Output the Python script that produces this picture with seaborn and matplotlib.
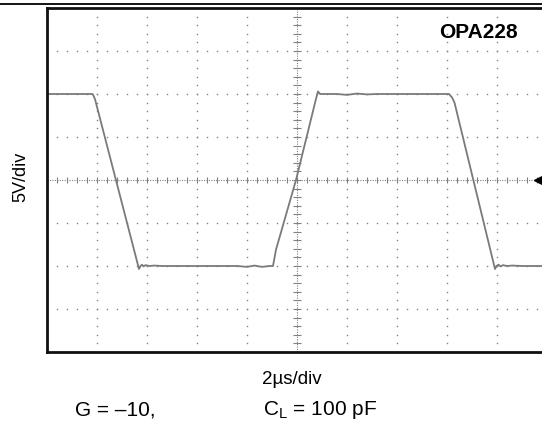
import numpy as np
import pandas as pd
import matplotlib
matplotlib.use("Agg")
import matplotlib.pyplot as plt
from matplotlib.lines import Line2D
import seaborn as sns

# scope trace: time in us (2 us/div), level in V (5 V/div)
time_us = [0.0, 1.82, 1.86, 1.92, 3.68, 3.74, 3.80, 3.86, 3.94, 4.10, 4.30, 4.60,
           5.0, 7.6, 8.0, 8.3, 8.6, 8.9, 9.04, 9.16, 9.96, 10.80, 10.84, 10.92,
           11.2, 11.6, 12.0, 12.4, 12.8, 13.2, 16.08, 16.20, 16.30, 17.92, 17.98,
           18.06, 18.14, 18.24, 18.40, 18.60, 19.0, 19.8]
volts = [10.0, 10.0, 9.8, 9.4, -10.35, -10.0, -9.85, -10.05, -9.9, -10.0, -9.95, -10.0,
         -10.0, -10.0, -10.1, -9.95, -10.1, -10.0, -10.0, -8.1, 0.0, 9.9, 10.3, 10.0,
         10.0, 10.0, 9.9, 10.05, 9.95, 10.0, 10.0, 9.6, 9.0, -10.35, -10.0, -9.85,
         -10.05, -9.9, -10.0, -9.95, -10.0, -10.0]

title_text = "OPA228"
y_label = "5V/div"
x_label = "2\u00b5s/div"
gain_text = "G = \u201310,"
load_text = r"C$_\mathregular{L}$ = 100 pF"


def main():
    sns.set_theme(style="white")
    plt.rcParams["font.family"] = ["Liberation Sans", "DejaVu Sans"]
    plt.rcParams["text.color"] = "black"

    df = pd.DataFrame({"t": time_us, "v": volts})

    fig = plt.figure(figsize=(5.42, 4.21), dpi=100)
    ax = fig.add_axes([47 / 542, 69 / 421, 500 / 542, 344 / 421])
    ax.set_xlim(0, 20)
    ax.set_ylim(-20, 20)

    # dotted graticule, 5 dots per division
    dot = dict(ls="none", marker="s", ms=1.0, color="#808080", mew=0)
    for gx in [2, 4, 6, 8, 12, 14, 16, 18]:
        yy = np.arange(-20, 20.01, 1.0)
        ax.plot(np.full_like(yy, gx), yy, **dot)
    for gy in [-15, -10, -5, 5, 10, 15]:
        xx = np.arange(0, 20.01, 0.4)
        ax.plot(xx, np.full_like(xx, gy), **dot)

    # centre cross with minor marks
    ax.axhline(0, ls=(0, (1, 1.2)), lw=0.8, color="#808080")
    ax.axvline(10, ls=(0, (1, 1.2)), lw=0.8, color="#808080")
    xx = np.arange(0, 20.01, 0.4)
    ax.plot(xx, np.zeros_like(xx), ls="none", marker="|", ms=4, mew=0.8, color="#808080")
    yy = np.arange(-20, 20.01, 1.0)
    ax.plot(np.full_like(yy, 10), yy, ls="none", marker="_", ms=6, mew=0.8, color="#808080")

    # trace
    sns.lineplot(data=df, x="t", y="v", ax=ax, sort=False, estimator=None,
                 color="#7a7a7a", lw=1.3)
    t = np.array(time_us)
    v = np.array(volts)
    steep = np.diff(v) / np.diff(t) < -15
    for i in np.where(steep)[0]:
        ax.plot(t[i:i + 2], v[i:i + 2], color="#2a2a2a", lw=0.9)

    # ground marker
    ax.plot(19.64, 0, marker="<", ms=6, color="black", clip_on=False)

    ax.set_xlabel("")
    ax.set_ylabel("")
    ax.set_xticks(np.arange(0, 20.01, 2))
    ax.set_yticks(np.arange(-20, 20.01, 5))
    ax.set_xticks(np.arange(0, 20.01, 0.4), minor=True)
    ax.set_yticks(np.arange(-20, 20.01, 1.0), minor=True)
    ax.tick_params(which="both", direction="in", labelleft=False, labelbottom=False,
                   top=False, right=False, color="#777777")
    ax.tick_params(which="major", length=0)
    ax.tick_params(which="minor", length=3, width=0.8)

    for side in ["left", "bottom", "top"]:
        ax.spines[side].set_linewidth(2.0)
        ax.spines[side].set_color("#111111")
    ax.spines["right"].set_visible(False)

    fig.add_artist(Line2D([0, 1], [1 - 4 / 421, 1 - 4 / 421], color="black", lw=1.3))

    fig.text(478 / 542, 1 - 33 / 421, title_text, ha="center", va="center",
             fontsize=15, fontweight="bold")
    fig.text(21 / 542, 1 - 177 / 421, y_label, ha="center", va="center",
             rotation=90, fontsize=13)
    fig.text(292 / 542, 1 - 380 / 421, x_label, ha="center", va="center", fontsize=13.5)
    fig.text(75 / 542, 1 - 410 / 421, gain_text, ha="left", va="center", fontsize=15)
    fig.text(263 / 542, 1 - 410 / 421, load_text, ha="left", va="center", fontsize=15)

    fig.savefig("out.png", dpi=100)


if __name__ == "__main__":
    main()
